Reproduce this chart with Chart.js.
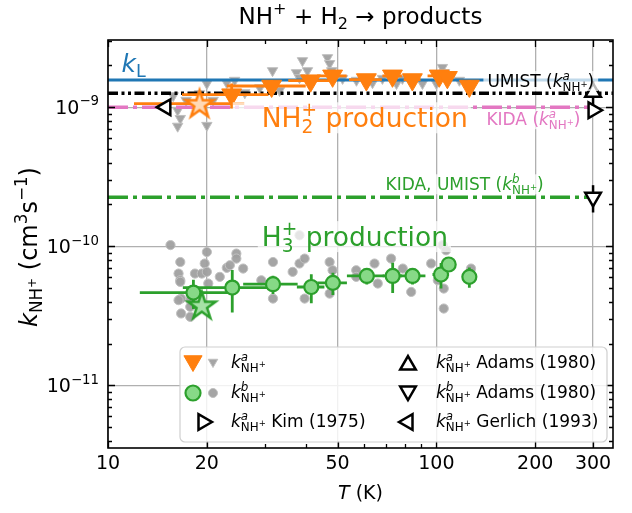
<!DOCTYPE html>
<html><head><meta charset="utf-8">
<script src="https://cdn.jsdelivr.net/npm/chart.js@4.4.0/dist/chart.umd.min.js"></script>
<style>html,body{margin:0;padding:0;background:#fff}#wrap{width:632px;height:513px}</style>
</head><body><div id="wrap"><canvas id="c" width="632" height="513" style="width:632px;height:513px"></canvas></div>
<script>
// ---------- axis ranges and ticks ----------
const X_MIN = 10, X_MAX = 345;
const Y_MIN = 3.55e-12, Y_MAX = 3.04e-9;
const xTickValues = [10, 20, 50, 100, 200, 300];
const xTickLabels = ['10', '20', '50', '100', '200', '300'];
const xMinorTicks = [30, 40, 60, 70, 80, 90];
const yTickValues = [1e-11, 1e-10, 1e-9];
const yTickExponents = ['−11', '−10', '−9'];
const yMinorTicks = [4e-12,5e-12,6e-12,7e-12,8e-12,9e-12,2e-11,3e-11,4e-11,5e-11,6e-11,7e-11,8e-11,9e-11,2e-10,3e-10,4e-10,5e-10,6e-10,7e-10,8e-10,9e-10,2e-9,3e-9];

// ---------- k^a (NH2+ production), this work ----------
const tempA = [23.8, 31.5, 41.4, 48.3, 61.2, 73.5, 84.5, 102, 108, 126];
const rateA = [1.23e-9, 1.42e-9, 1.55e-9, 1.68e-9, 1.58e-9, 1.68e-9, 1.58e-9, 1.68e-9, 1.64e-9, 1.42e-9];
const tempAErr = [7, 8.5, 6, 5, 7, 5, 5, 8, 4, 4];
const rateAErr = [0.25e-9, 0.15e-9, 0.15e-9, 0.15e-9, 0.15e-9, 0.15e-9, 0.15e-9, 0.15e-9, 0.15e-9, 0.15e-9];

// ---------- k^b (H3+ production), this work ----------
const tempB = [18.2, 23.9, 31.8, 41.6, 48.4, 61.4, 73.6, 84.6, 103.3, 109, 126];
const rateB = [4.65e-11, 5.05e-11, 5.34e-11, 5.1e-11, 5.46e-11, 6.12e-11, 6.12e-11, 6.12e-11, 6.27e-11, 7.4e-11, 6.03e-11];
const tempBErr = [5.7, 7, 6, 4, 5, 8, 5, 8, 6, 3, 3];
const rateBErr = [1.1e-11, 1.7e-11, 0.8e-11, 1.2e-11, 1.0e-11, 0.8e-11, 1.5e-11, 0.8e-11, 1.3e-11, 0.8e-11, 1.0e-11];

// ---------- stars ----------
const starAT = [19.0], starAK = [1.06e-9], starATErr = [7];
const starBT = [19.3], starBK = [3.77e-11];

// ---------- raw measurements (grey) ----------
const rawAT = [15.8,16.3,16.6,16.3,17.3,19.0,20.0,20.0,20.9,23.0,24.3,26.1,29.0,31.7,33.3,37.5,38.3,39.1,40.5,46.6,47.3,48.0,51.8,57.1,61.3,63.9,68.5,75.6,78.8,90.7,100,104.3,105.8,109.5,117.5];
const rawAK = [1.21e-9,0.95e-9,0.83e-9,0.73e-9,1.12e-9,1.25e-9,1.48e-9,0.74e-9,1.12e-9,1.50e-9,1.56e-9,1.27e-9,1.38e-9,1.83e-9,1.32e-9,1.77e-9,1.63e-9,2.16e-9,1.83e-9,2.27e-9,2.06e-9,1.83e-9,1.61e-9,1.56e-9,1.48e-9,1.50e-9,1.61e-9,1.48e-9,1.61e-9,1.48e-9,1.48e-9,1.93e-9,1.77e-9,1.63e-9,1.56e-9];
const rawBT = [15.5,16.6,16.4,16.6,16.6,16.7,16.4,16.7,17.8,17.8,17.8,18.4,19.3,20.0,19.7,20.0,20.2,21.9,23.0,23.5,24.6,24.6,25.8,29.3,31.8,31.8,36.5,38.3,38.3,39.7,39.7,47.3,48.3,47.3,57.0,57.0,64.8,66.3,72.8,79.0,83.8,96.4,101,104.5,107,105.3,105.3,127.5];
const rawBK = [1.02e-10,7.71e-11,6.37e-11,5.70e-11,5.55e-11,4.21e-11,4.10e-11,3.29e-11,3.11e-11,4.10e-11,3.67e-11,6.37e-11,6.37e-11,9.10e-11,7.52e-11,6.55e-11,5.40e-11,6.03e-11,7.0e-11,7.31e-11,8.87e-11,8.16e-11,6.92e-11,5.70e-11,7.71e-11,4.21e-11,6.55e-11,1.20e-10,7.52e-11,8.16e-11,4.21e-11,7.71e-11,6.73e-11,4.57e-11,6.73e-11,6.03e-11,7.52e-11,5.40e-11,8.16e-11,6.92e-11,4.70e-11,7.52e-11,5.70e-11,1.02e-10,9.36e-11,4.97e-11,3.57e-11,6.92e-11];

// ---------- literature ----------
const adamsAT = [300], adamsAK = [1.28e-9], adamsAErr = [0.26e-9];
const adamsBT = [300], adamsBK = [2.25e-10], adamsBErr = [0.5e-10];
const kimT = [300], kimK = [0.95e-9];
const gerlichT = [15], gerlichK = [1.0e-9];
const kL = 1.57e-9, umistA = 1.26e-9, kidaA = 1.0e-9, kidaUmistB = 2.25e-10;
const dbLineEnd = 300;

// ---------- text helpers ----------
const FAM = '"DejaVu Sans", sans-serif';
function fnt(sz, it) { return (it ? 'italic ' : '') + sz.toFixed(2) + 'px ' + FAM; }
function T_(t, o) { return Object.assign({ t: t, s: 1, dy: 0, it: false }, o || {}); }
function tokW(ctx, tk, F) {
  if (tk.stack) return Math.max.apply(null, tk.stack.map(q => seqW(ctx, q, F)));
  ctx.font = fnt(F * tk.s, tk.it); return ctx.measureText(tk.t).width;
}
function seqW(ctx, seq, F) { return seq.reduce((a, tk) => a + tokW(ctx, tk, F), 0); }
function drawSeq(ctx, seq, x, y, F) {
  ctx.textAlign = 'left'; ctx.textBaseline = 'alphabetic';
  for (const tk of seq) {
    const w = tokW(ctx, tk, F);
    if (tk.stack) tk.stack.forEach(q => drawSeq(ctx, q, x, y, F));
    else { ctx.font = fnt(F * tk.s, tk.it); ctx.fillText(tk.t, x, y - tk.dy * F); }
    x += w;
  }
}
const SUBNH = [T_('NH', { s: .7, dy: -.22 }), T_('+', { s: .5, dy: .04 })];
const KA = [T_('k', { it: true }), { stack: [[T_('a', { s: .7, dy: .42, it: true })], SUBNH] }];
const KB = [T_('k', { it: true }), { stack: [[T_('b', { s: .7, dy: .42, it: true })], SUBNH] }];

const annotations = [
  { seq: [T_('k', { it: true }), T_('L', { s: .7, dy: -.2 })], T: 11.0, k: 1.80e-9, F: 25, color: '#1f77b4' },
  { seq: [T_('UMIST (')].concat(KA, [T_(')')]), T: 143, k: 1.39e-9, F: 17, color: '#000', box: [4, 4] },
  { seq: [T_('KIDA (')].concat(KA, [T_(')')]), T: 142, k: 0.739e-9, F: 17, color: '#e377c2', box: [4, 4] },
  { seq: [T_('NH'), { stack: [[T_('+', { s: .7, dy: .42 })], [T_('2', { s: .7, dy: -.2 })]] }, T_(' production')], T: 29.4, k: 0.715e-9, F: 26.5, color: '#ff7f0e', box: [29, 3] },
  { seq: [T_('KIDA, UMIST (')].concat(KB, [T_(')')]), T: 70.0, k: 2.52e-10, F: 17, color: '#2ca02c', box: [4, 4] },
  { seq: [T_('H'), { stack: [[T_('+', { s: .7, dy: .42 })], [T_('3', { s: .7, dy: -.2 })]] }, T_(' production')], T: 29.4, k: 1.0e-10, F: 26.5, color: '#2ca02c', box: [4, 3] }
];

// ---------- marker helpers ----------
function tri(ctx, x, y, r, rot, fill, stroke, lw) {
  const r0 = rot * Math.PI / 180;
  ctx.beginPath();
  for (let i = 0; i < 3; i++) { const a = r0 + i * 2 * Math.PI / 3; const px = x + Math.sin(a) * r, py = y - Math.cos(a) * r; i ? ctx.lineTo(px, py) : ctx.moveTo(px, py); }
  ctx.closePath(); ctx.fillStyle = fill; ctx.fill(); ctx.lineWidth = lw; ctx.strokeStyle = stroke; ctx.stroke();
}
function circ(ctx, x, y, r, fill, stroke, lw) {
  ctx.beginPath(); ctx.arc(x, y, r, 0, 2 * Math.PI); ctx.fillStyle = fill; ctx.fill(); ctx.lineWidth = lw; ctx.strokeStyle = stroke; ctx.stroke();
}
function makeStar(R, fill, stroke, lw) {
  const s = Math.ceil(2 * R + 2 * lw + 4); const c = document.createElement('canvas'); c.width = s; c.height = s;
  const g = c.getContext('2d'); const cx = s / 2, cy = s / 2 + 1;
  g.beginPath();
  for (let i = 0; i < 10; i++) { const rr = i % 2 ? R * 0.382 : R; const a = -Math.PI / 2 + i * Math.PI / 5; const px = cx + rr * Math.cos(a), py = cy + rr * Math.sin(a); i ? g.lineTo(px, py) : g.moveTo(px, py); }
  g.closePath(); g.fillStyle = fill; g.fill(); g.lineWidth = lw; g.lineJoin = 'miter'; g.strokeStyle = stroke; g.stroke();
  return c;
}
const starA = makeStar(14.5, '#ffd9b5', '#ff7f0e', 2.5);
const starB = makeStar(14.5, '#a6e2a6', '#2ca02c', 2.5);

const GREY = 'rgba(160,160,160,0.95)', GREYE = '#c0c0c0';
const P = (xs, ys) => xs.map((v, i) => ({ x: v, y: ys[i] }));

function drawErr(chart, e) {
  const { ctx, scales: { x, y }, chartArea: a } = chart;
  ctx.save(); ctx.beginPath(); ctx.rect(a.left, a.top, a.right - a.left, a.bottom - a.top); ctx.clip();
  ctx.strokeStyle = e.color; ctx.lineWidth = e.lw; ctx.lineCap = 'butt';
  for (let i = 0; i < e.xs.length; i++) {
    const px = x.getPixelForValue(e.xs[i]), py = y.getPixelForValue(e.ys[i]);
    ctx.beginPath();
    if (e.xe && e.xe[i]) { ctx.moveTo(x.getPixelForValue(e.xs[i] - e.xe[i]), py); ctx.lineTo(x.getPixelForValue(e.xs[i] + e.xe[i]), py); }
    if (e.ye && e.ye[i]) { ctx.moveTo(px, y.getPixelForValue(e.ys[i] - e.ye[i])); ctx.lineTo(px, y.getPixelForValue(e.ys[i] + e.ye[i])); }
    ctx.stroke();
  }
  ctx.restore();
}

const custom = {
  id: 'custom',
  beforeDatasetDraw(chart, args) {
    const ds = chart.data.datasets[args.index];
    if (ds.err) drawErr(chart, ds.err);
  },
  afterDatasetsDraw(chart) {
    const { ctx, scales: { x, y } } = chart;
    ctx.save();
    for (const an of annotations) {
      const px = x.getPixelForValue(an.T), py = y.getPixelForValue(an.k);
      const w = seqW(ctx, an.seq, an.F);
      if (an.box) { ctx.fillStyle = 'rgba(255,255,255,0.72)'; ctx.fillRect(px - an.box[0], py - 0.95 * an.F, w + an.box[0] + an.box[1], 1.17 * an.F); }
      ctx.fillStyle = an.color; drawSeq(ctx, an.seq, px, py, an.F);
    }
    ctx.restore();
  },
  afterDraw(chart) {
    const { ctx, scales: { x, y }, chartArea: a } = chart;
    ctx.save();
    ctx.strokeStyle = '#000'; ctx.lineWidth = 1.3;
    const tick = (len, vals, axis) => {
      ctx.beginPath();
      for (const v of vals) {
        if (axis === 'x') { const p = Math.round(x.getPixelForValue(v)) + 0.5; ctx.moveTo(p, a.bottom); ctx.lineTo(p, a.bottom - len); ctx.moveTo(p, a.top); ctx.lineTo(p, a.top + len); }
        else { const p = Math.round(y.getPixelForValue(v)) + 0.5; ctx.moveTo(a.left, p); ctx.lineTo(a.left + len, p); ctx.moveTo(a.right, p); ctx.lineTo(a.right - len, p); }
      }
      ctx.stroke();
    };
    tick(7, xTickValues, 'x'); tick(4, xMinorTicks, 'x'); tick(7, yTickValues, 'y'); tick(4, yMinorTicks, 'y');
    ctx.lineWidth = 1.6; ctx.strokeRect(a.left, a.top, a.right - a.left, a.bottom - a.top);
    ctx.fillStyle = '#000';
    yTickValues.forEach((v, i) => {
      const seq = [T_('10'), T_(yTickExponents[i], { s: .7, dy: .45 })];
      const F = 19, w = seqW(ctx, seq, F), py = y.getPixelForValue(v);
      drawSeq(ctx, seq, a.left - 9 - w, py + 0.36 * F, F);
    });
    const tseq = [T_('NH'), T_('+', { s: .7, dy: .42 }), T_(' + H'), T_('2', { s: .7, dy: -.2 }), T_(' → products')];
    const TF = 23, tw = seqW(ctx, tseq, TF);
    drawSeq(ctx, tseq, (a.left + a.right) / 2 - tw / 2, 24, TF);
    const xseq = [T_('T', { it: true }), T_(' (K)')];
    const xw = seqW(ctx, xseq, 19);
    drawSeq(ctx, xseq, (a.left + a.right) / 2 - xw / 2, 499, 19);
    const yseq = [T_('k', { it: true }), T_('NH', { s: .7, dy: -.22 }), T_('+', { s: .5, dy: .04 }), T_(' (cm'), T_('3', { s: .7, dy: .42 }), T_('s'), T_('−1', { s: .7, dy: .42 }), T_(')')];
    const YF = 24, yw = seqW(ctx, yseq, YF);
    ctx.save(); ctx.translate(37, 247); ctx.rotate(-Math.PI / 2);
    drawSeq(ctx, yseq, -yw / 2, 0, YF); ctx.restore();
    // legend
    const W = 427, H = 95, x0 = a.right - 6 - W, y0 = a.bottom - 6 - H;
    ctx.beginPath(); ctx.roundRect(x0, y0, W, H, 5);
    ctx.fillStyle = 'rgba(255,255,255,0.82)'; ctx.fill(); ctx.strokeStyle = '#cfcfcf'; ctx.lineWidth = 1.2; ctx.stroke();
    const rows = [y0 + 16, y0 + 46, y0 + 75], LF = 17;
    tri(ctx, x0 + 13, rows[0] - 2, 10.5, 180, '#ff7f0e', '#ff7f0e', 1);
    tri(ctx, x0 + 33, rows[0] - 1, 5.5, 180, GREY, GREYE, 1);
    circ(ctx, x0 + 13, rows[1], 7.5, '#87d987', '#2ca02c', 2.2);
    circ(ctx, x0 + 33, rows[1], 4.5, GREY, GREYE, 1);
    tri(ctx, x0 + 23, rows[2], 9, 90, '#fff', '#000', 2.5);
    tri(ctx, x0 + 228, rows[0] + 2, 9, 0, '#fff', '#000', 2.5);
    tri(ctx, x0 + 228, rows[1] - 2, 9, 180, '#fff', '#000', 2.5);
    tri(ctx, x0 + 228, rows[2], 9, 270, '#fff', '#000', 2.5);
    ctx.fillStyle = '#000';
    const lt = [
      [KA, x0 + 51, rows[0]], [KB, x0 + 51, rows[1]], [KA.concat([T_(' Kim (1975)')]), x0 + 51, rows[2]],
      [KA.concat([T_(' Adams (1980)')]), x0 + 256, rows[0]], [KB.concat([T_(' Adams (1980)')]), x0 + 256, rows[1]], [KA.concat([T_(' Gerlich (1993)')]), x0 + 256, rows[2]]
    ];
    for (const [s, lx, ly] of lt) drawSeq(ctx, s, lx, ly + 0.3 * LF, LF);
    ctx.restore();
  }
};

const hline = (label, val, x1, color, dash, lw) => ({
  label, data: [{ x: X_MIN, y: val }, { x: x1, y: val }], showLine: true, pointRadius: 0,
  borderColor: color, borderWidth: lw, borderDash: dash, borderCapStyle: 'butt', order: 5
});

new Chart(document.getElementById('c'), {
  type: 'scatter',
  data: {
    datasets: [
      { label: 'Adams a', data: P(adamsAT, adamsAK), pointStyle: 'triangle', rotation: 0, pointRadius: 9, backgroundColor: '#fff', borderColor: '#000', borderWidth: 2.5, order: 0,
        err: { xs: adamsAT, ys: adamsAK, ye: adamsAErr, color: '#000', lw: 2.5 } },
      { label: 'Adams b', data: P(adamsBT, adamsBK), pointStyle: 'triangle', rotation: 180, pointRadius: 9, backgroundColor: '#fff', borderColor: '#000', borderWidth: 2.5, order: 0,
        err: { xs: adamsBT, ys: adamsBK, ye: adamsBErr, color: '#000', lw: 2.5 } },
      { label: 'Kim', data: P(kimT, kimK), pointStyle: 'triangle', rotation: 90, pointRadius: 9, backgroundColor: '#fff', borderColor: '#000', borderWidth: 2.5, order: 0 },
      { label: 'Gerlich', data: P(gerlichT, gerlichK), pointStyle: 'triangle', rotation: 270, pointRadius: 9, backgroundColor: '#fff', borderColor: '#000', borderWidth: 2.5, order: 0 },
      { label: 'star a', data: P(starAT, starAK), pointStyle: starA, order: 1,
        err: { xs: starAT, ys: starAK, xe: starATErr, color: '#ff7f0e', lw: 2.8 } },
      { label: 'star b', data: P(starBT, starBK), pointStyle: starB, order: 1 },
      { label: 'k^a', data: P(tempA, rateA), pointStyle: 'triangle', rotation: 180, pointRadius: 11.5, backgroundColor: '#ff7f0e', borderColor: '#ff7f0e', borderWidth: 1, order: 2,
        err: { xs: tempA, ys: rateA, xe: tempAErr, ye: rateAErr, color: '#ff7f0e', lw: 2.8 } },
      { label: 'k^b', data: P(tempB, rateB), pointStyle: 'circle', pointRadius: 7, backgroundColor: '#87d987', borderColor: '#2ca02c', borderWidth: 2.2, order: 2,
        err: { xs: tempB, ys: rateB, xe: tempBErr, ye: rateBErr, color: '#2ca02c', lw: 2.8 } },
      hline('kL', kL, X_MAX, '#1f77b4', [], 3),
      hline('UMIST a', umistA, X_MAX, '#000', [10, 3.5, 3, 3.5, 3, 3.5], 3.5),
      hline('KIDA a', kidaA, dbLineEnd, '#e377c2', [20, 5, 4, 5], 3.5),
      hline('KIDA UMIST b', kidaUmistB, dbLineEnd, '#2ca02c', [20, 5, 4, 5], 3.5),
      { label: 'raw a', data: P(rawAT, rawAK), pointStyle: 'triangle', rotation: 180, pointRadius: 6, backgroundColor: GREY, borderColor: GREYE, borderWidth: 1, order: 6 },
      { label: 'raw b', data: P(rawBT, rawBK), pointStyle: 'circle', pointRadius: 4.6, backgroundColor: GREY, borderColor: GREYE, borderWidth: 1, order: 6 }
    ]
  },
  options: {
    responsive: false, animation: false, events: [],
    layout: { padding: { top: 40, right: 19, left: 0, bottom: 0 } },
    plugins: { legend: { display: false }, tooltip: { enabled: false }, title: { display: false } },
    scales: {
      x: {
        type: 'logarithmic', min: X_MIN, max: X_MAX,
        afterBuildTicks: s => { s.ticks = xTickValues.map(v => ({ value: v })); },
        afterFit: s => { s.height = 65; },
        ticks: { autoSkip: false, maxRotation: 0, padding: 5, color: '#000', font: { family: 'DejaVu Sans', size: 19 },
          callback: v => { const i = xTickValues.indexOf(v); return i >= 0 ? xTickLabels[i] : ''; } },
        grid: { color: '#b0b0b0', lineWidth: 1.3, drawTicks: false },
        border: { display: false }
      },
      y: {
        type: 'logarithmic', min: Y_MIN, max: Y_MAX,
        afterBuildTicks: s => { s.ticks = yTickValues.map(v => ({ value: v })); },
        afterFit: s => { s.width = 108; },
        ticks: { display: false },
        grid: { color: '#b0b0b0', lineWidth: 1.3, drawTicks: false },
        border: { display: false }
      }
    }
  },
  plugins: [custom]
});
</script></body></html>
